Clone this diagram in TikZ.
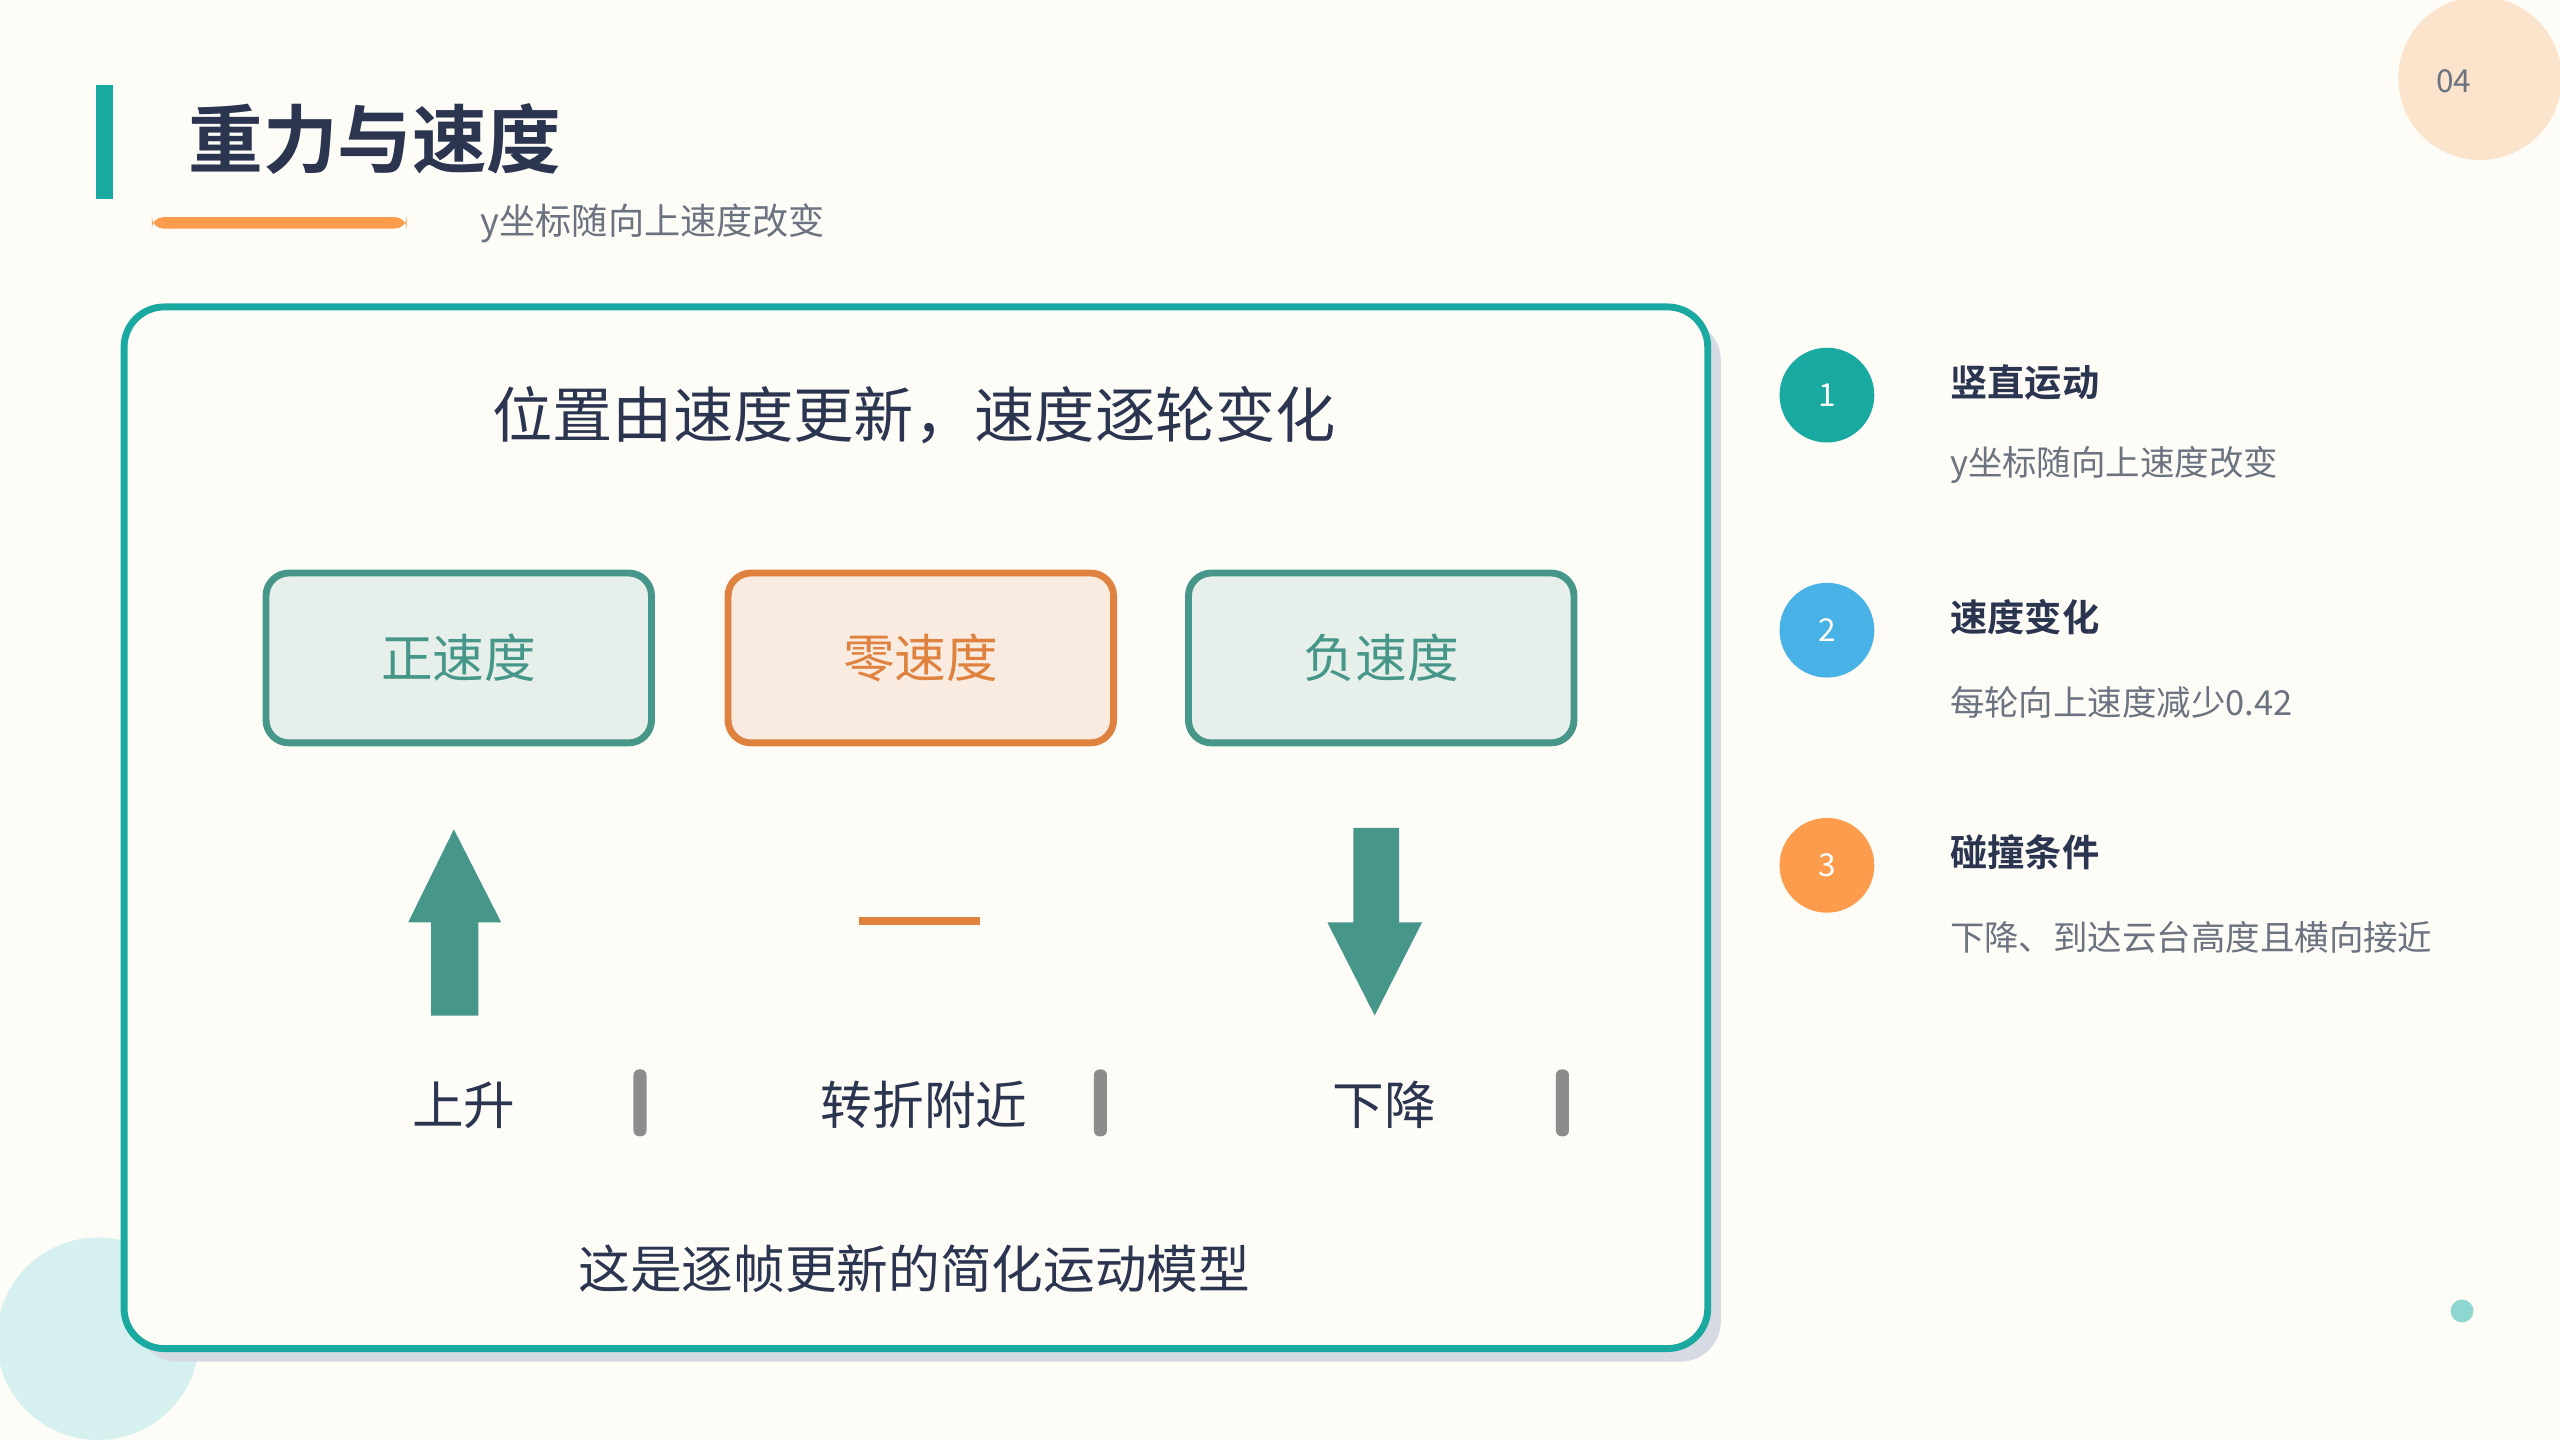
\documentclass[tikz,border=0pt]{standalone}
\usepackage{fontspec}
\setmainfont{Noto Sans CJK SC}
\newfontfamily\cjkb{Noto Sans CJK SC Bold}
\definecolor{bg}{HTML}{FDFCF7}
\definecolor{teal}{HTML}{1AA9A0}
\definecolor{dark}{HTML}{2B3550}
\definecolor{gr}{HTML}{6B7280}
\definecolor{grn}{HTML}{47968A}
\definecolor{grnf}{HTML}{E6EFEA}
\definecolor{org}{HTML}{E0823F}
\definecolor{orgf}{HTML}{FAEBE0}
\definecolor{cLT}{HTML}{D5F0EE}
\definecolor{cPE}{HTML}{FCE3CC}
\definecolor{cDT}{HTML}{8ED6D0}
\definecolor{cOR}{HTML}{FD9C4D}
\definecolor{cBL}{HTML}{48B1E6}
\definecolor{cSH}{HTML}{D5DAE3}
\tikzset{
 x=0.01cm,y=-0.01cm,
 box/.style={draw=grn,fill=grnf,line width=1.2pt,rounded corners=4pt,minimum width=2.36cm,minimum height=1.04cm,text=grn,font=\fontsize{9}{9}\selectfont},
 lbl/.style={text=dark,font=\fontsize{9}{9}\selectfont},
 bar/.style={fill=gray!90,rounded corners=1pt},
 num/.style={circle,minimum size=0.58cm,text=white,font=\fontsize{5.5}{5.5}\selectfont},
 ttl/.style={anchor=west,text=dark,font=\cjkb\fontsize{6.5}{6.5}\selectfont},
 dsc/.style={anchor=west,text=gr,font=\fontsize{6}{6}\selectfont}
}
\begin{document}
\begin{tikzpicture}
\fill[bg] (0,0) rectangle (1568,882);
\useasboundingbox (0,0) rectangle (1568,882);
\fill[cLT] (60,820) circle (62);
\fill[cPE] (1519,48) circle (50);
\node[text=gr,font=\fontsize{5.5}{5.5}\selectfont] (pg) at (1503,50) {04};
\fill[cDT] (1508,803) circle (7);
\fill[teal] (59,52) rectangle (69,122);
\node[anchor=west,text=dark,font=\cjkb\fontsize{13}{13}\selectfont] (title) at (103,85) {重力与速度};
\fill[cOR,rounded corners=2pt] (93,133) rectangle (249,140);
\node[anchor=west,text=gr,font=\fontsize{6.3}{6.3}\selectfont] (sub) at (282,137) {y坐标随向上速度改变};
\fill[cSH,rounded corners=7pt] (84,196) rectangle (1054,834);
\draw[teal,fill=bg,line width=1.2pt,rounded corners=7pt] (76,188) rectangle (1046,826);
\node[text=dark,font=\fontsize{10.5}{10.5}\selectfont] (head) at (560,254) {位置由速度更新，速度逐轮变化};
\node[box] (b1) at (281,403) {正速度};
\node[box,draw=org,fill=orgf,text=org] (b2) at (564,403) {零速度};
\node[box] (b3) at (846,403) {负速度};
\fill[grn] (264,622) -- (264,565) -- (250,565) -- (278,508) -- (307,565) -- (293,565) -- (293,622) -- cycle;
\draw[org,line width=1.4pt] (526,564) -- (600,564);
\fill[grn] (829,507) -- (857,507) -- (857,565) -- (871,565) -- (842,622) -- (813,565) -- (829,565) -- cycle;
\node[lbl] (l1) at (284,677) {上升};
\node[lbl] (l2) at (566,677) {转折附近};
\node[lbl] (l3) at (848,677) {下降};
\foreach \x in {392,674,957} \fill[bar] (\x-4,655) rectangle (\x+4,696);
\node[text=dark,font=\fontsize{9}{9}\selectfont] (foot) at (560,777) {这是逐帧更新的简化运动模型};
\node[num,fill=teal] (n1) at (1119,242) {1};
\node[num,fill=cBL] (n2) at (1119,386) {2};
\node[num,fill=cOR] (n3) at (1119,530) {3};
\node[ttl] (t1) at (1182,234) {竖直运动};
\node[dsc] (d1) at (1182,285) {y坐标随向上速度改变};
\node[ttl] (t2) at (1182,378) {速度变化};
\node[dsc] (d2) at (1182,430) {每轮向上速度减少0.42};
\node[ttl] (t3) at (1182,522) {碰撞条件};
\node[dsc] (d3) at (1182,574) {下降、到达云台高度且横向接近};
\end{tikzpicture}
\end{document}
